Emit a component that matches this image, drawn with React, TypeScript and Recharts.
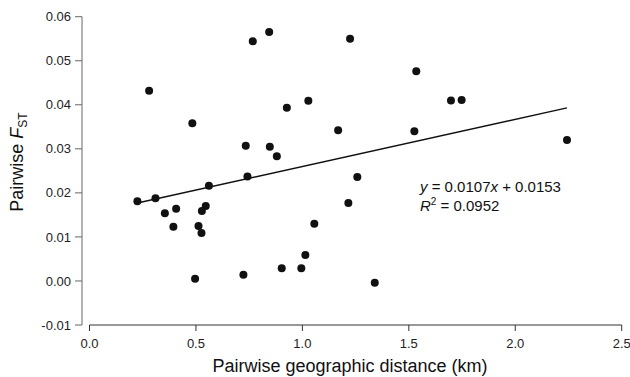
import React from 'react';
import {
  ScatterChart,
  Scatter,
  XAxis,
  YAxis,
  ReferenceLine,
  Customized,
} from 'recharts';

// pairwise geographic distance (km) vs pairwise FST
const distanceKm = [
  0.225, 0.28, 0.31, 0.354, 0.394, 0.407, 0.483, 0.496, 0.512, 0.526, 0.528, 0.546,
  0.561, 0.723, 0.734, 0.742, 0.767, 0.844, 0.847, 0.88, 0.903, 0.927, 0.995, 1.014,
  1.028, 1.056, 1.168, 1.216, 1.224, 1.258, 1.34, 1.526, 1.535, 1.698, 1.748, 2.243,
];
const fst = [
  0.0181, 0.0432, 0.0188, 0.0154, 0.0123, 0.0164, 0.0358, 0.0005, 0.0125, 0.0109, 0.0159, 0.017,
  0.0216, 0.0014, 0.0307, 0.0237, 0.0544, 0.0565, 0.0305, 0.0283, 0.0029, 0.0393, 0.0029, 0.0059,
  0.0409, 0.013, 0.0342, 0.0177, 0.055, 0.0236, -0.0004, 0.034, 0.0476, 0.041, 0.0411, 0.032,
];

// fitted line end points (y = 0.0107x + 0.0153)
const fitLine = [
  { x: 0.225, y: 0.0177 },
  { x: 2.243, y: 0.0393 },
];

const xTicks = [0, 0.5, 1, 1.5, 2, 2.5];
const yTicks = [-0.01, 0, 0.01, 0.02, 0.03, 0.04, 0.05, 0.06];

const points = distanceKm.map((d, i) => ({ x: d, y: fst[i] }));

const FONT = '"Liberation Sans", Arial, Helvetica, sans-serif';

const Annotations = () => (
  <g fontFamily={FONT} fill="#111">
    <text x={23} y={162} fontSize={18} textAnchor="middle" transform="rotate(-90 23 162)">
      Pairwise <tspan fontStyle="italic">F</tspan>
      <tspan fontSize={12} dy={4}>ST</tspan>
    </text>
    <text x={350} y={372} fontSize={18} textAnchor="middle">
      Pairwise geographic distance (km)
    </text>
    <text x={420} y={192} fontSize={15}>
      <tspan fontStyle="italic">y</tspan> = 0.0107<tspan fontStyle="italic">x</tspan> + 0.0153
    </text>
    <text x={420} y={211} fontSize={15}>
      <tspan fontStyle="italic">R</tspan>
      <tspan fontSize={10} dy={-6}>2</tspan>
      <tspan dy={6}> = 0.0952</tspan>
    </text>
  </g>
);

export default function App() {
  return (
    <div style={{ position: 'absolute', left: 0, top: 0, background: '#fff' }}>
      <ScatterChart
        width={630}
        height={377}
        margin={{ top: 16.7, right: 8.3, left: 0, bottom: 0 }}
      >
        <XAxis
          type="number"
          dataKey="x"
          domain={[0, 2.5]}
          ticks={xTicks}
          padding={{ left: 7.5, right: 0 }}
          tickFormatter={(v: number) => v.toFixed(1)}
          axisLine={false}
          tickLine={{ stroke: '#333' }}
          tickSize={6}
          tickMargin={8}
          height={52}
          tick={{ fontSize: 13, fill: '#222', fontFamily: FONT }}
        />
        <YAxis
          type="number"
          dataKey="y"
          domain={[-0.01, 0.06]}
          ticks={yTicks}
          tickFormatter={(v: number) => v.toFixed(2)}
          axisLine={{ stroke: '#666' }}
          tickLine={{ stroke: '#666' }}
          tickSize={7}
          tickMargin={4}
          width={82}
          tick={{ fontSize: 13, fill: '#222', fontFamily: FONT }}
        />
        <ReferenceLine
          segment={[{ x: 0, y: -0.01 }, { x: 2.5, y: -0.01 }]}
          stroke="#333"
          strokeWidth={1}
          ifOverflow="visible"
        />
        <ReferenceLine
          segment={fitLine}
          stroke="#111"
          strokeWidth={1.4}
          ifOverflow="visible"
        />
        <Scatter data={points} fill="#111" isAnimationActive={false} shape={(p: any) => (
          <circle cx={p.cx} cy={p.cy} r={4} fill="#111" />
        )} />
        <Customized component={Annotations} />
      </ScatterChart>
    </div>
  );
}
